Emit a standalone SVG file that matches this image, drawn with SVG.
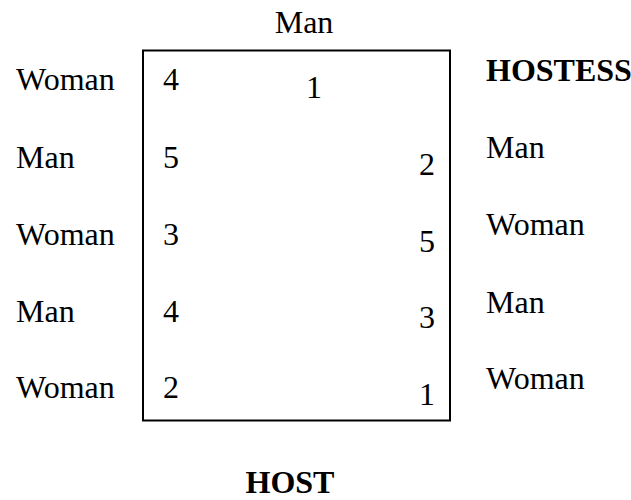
<svg xmlns="http://www.w3.org/2000/svg" width="631" height="500" viewBox="0 0 631 500">
<style>
text{font-family:"Liberation Serif","Times New Roman",serif;font-size:32px;fill:#000}
.b{font-weight:bold}
.m{text-anchor:middle}
</style>
<rect width="631" height="500" fill="#fff"/>
<g id="table">
<rect x="143" y="50.5" width="307" height="370" fill="none" stroke="#000" stroke-width="2"/>
</g>
<g id="top"><text x="304" y="33" class="m">Man</text></g>
<g id="left-labels">
<text x="16" y="90">Woman</text>
<text x="16" y="168">Man</text>
<text x="16" y="245">Woman</text>
<text x="16" y="322">Man</text>
<text x="16" y="398">Woman</text>
</g>
<g id="left-numbers">
<text x="163" y="90">4</text>
<text x="163" y="168">5</text>
<text x="163" y="245">3</text>
<text x="163" y="322">4</text>
<text x="163" y="398">2</text>
</g>
<g id="mid"><text x="314" y="98" class="m">1</text></g>
<g id="right-numbers">
<text x="427" y="175" class="m">2</text>
<text x="427" y="252" class="m">5</text>
<text x="427" y="328" class="m">3</text>
<text x="427" y="405" class="m">1</text>
</g>
<g id="right-labels">
<text x="486" y="81" class="b">HOSTESS</text>
<text x="486" y="158">Man</text>
<text x="486" y="235">Woman</text>
<text x="486" y="313">Man</text>
<text x="486" y="389">Woman</text>
</g>
<g id="host"><text x="290" y="493" class="b m">HOST</text></g>
</svg>
